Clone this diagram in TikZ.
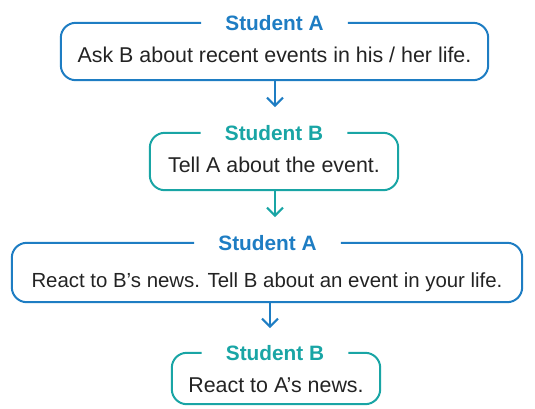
\documentclass[tikz,border=0pt]{standalone}
\usepackage{fontspec}
\setmainfont{Liberation Sans}
\usetikzlibrary{arrows.meta}
\definecolor{studA}{HTML}{1E7DC3}
\definecolor{studB}{HTML}{19A5A5}
\definecolor{bodytext}{HTML}{232323}
\tikzset{
  outline/.style={line width=2pt, rounded corners=15pt},
  boxframe/.style={inner sep=0pt, minimum width=#1},
  who/.style={font=\bfseries\fontsize{20.8}{24}\selectfont, inner xsep=24pt, inner ysep=0pt},
  says/.style={font=\fontsize{21.4}{25}\selectfont, text=bodytext, inner sep=0pt, anchor=base},
  nextstep/.style={line width=2pt, -{Straight Barb[length=8pt, width=16pt]}},
}
\begin{document}
\begin{tikzpicture}[x=1pt, y=-1pt]
    \useasboundingbox (0, 0) rectangle (535, 408);
        % frames
        \node [boxframe=427pt, minimum height=57pt] (box1) at (274.5, 51.5) {};
        \node [boxframe=248pt, minimum height=57pt] (box2) at (274, 161.5) {};
        \node [boxframe=510pt, minimum height=59pt] (box3) at (267, 272.5) {};
        \node [boxframe=208pt, minimum height=51pt] (box4) at (276, 378.5) {};
        % who speaks
        \node [who, text=studA] (who1) at (box1.north) {Student A};
        \node [who, text=studB] (who2) at (box2.north) {Student B};
        \node [who, text=studA] (who3) at ([xshift=0.5pt]box3.north) {Student A};
        \node [who, text=studB] (who4) at ([xshift=-1pt]box4.north) {Student B};
        % what they say
        \node [says] (say1) at (274.5, 62) {Ask B about recent events in his / her life.};
        \node [says] (say2) at (274, 172) {Tell A about the event.};
        \node [says, font=\fontsize{20.4}{24}\selectfont] (say3) at (267, 287) {React to B’s news. Tell B about an event in your life.};
        \node [says] (say4) at (276, 392) {React to A’s news.};
        \draw [outline, studA] (who1.west) -| (box1.south west) -| (box1.north east) -- (who1.east);
        \draw [outline, studB] (who2.west) -| (box2.south west) -| (box2.north east) -- (who2.east);
        \draw [outline, studA] (who3.west) -| (box3.south west) -| (box3.north east) -- (who3.east);
        \draw [outline, studB] (who4.west) -| (box4.south west) -| (box4.north east) -- (who4.east);
        % steps
        \coordinate (tip1) at (275, 107);
        \coordinate (tip2) at (275, 217);
        \coordinate (tip3) at (270, 328);
        \draw [nextstep, studA] (box1.south -| tip1) -- (tip1);
        \draw [nextstep, studB] (box2.south -| tip2) -- (tip2);
        \draw [nextstep, studA] (box3.south -| tip3) -- (tip3);
    \end{tikzpicture}
\end{document}
